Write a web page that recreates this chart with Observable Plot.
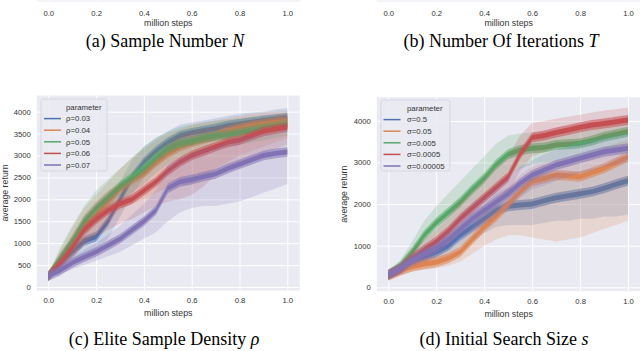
<!DOCTYPE html>
<html><head><meta charset="utf-8">
<script src="https://cdn.jsdelivr.net/npm/d3@7"></script>
<script src="https://cdn.jsdelivr.net/npm/@observablehq/plot@0.6"></script>
<style>
html,body{margin:0;padding:0;background:#fff}
#root{position:relative;width:640px;height:351px;overflow:hidden;font-family:"Liberation Sans",Arial,sans-serif}
.panel{position:absolute}
.cap{position:absolute;font-family:"Liberation Serif","Times New Roman",serif;font-size:18px;line-height:18px;color:#000;white-space:nowrap;transform:translateX(-50%)}
</style></head><body>
<div id="root"></div>
<script>
// ---------------- data ----------------
const steps = [0,0.05,0.1,0.15,0.2,0.25,0.3,0.35,0.4,0.45,0.5,0.55,0.6,0.65,0.7,0.75,0.8,0.85,0.9,0.95,1.0];
const xTicks = [0,0.2,0.4,0.6,0.8,1.0];
const rhoTicks = [0,500,1000,1500,2000,2500,3000,3500,4000];
const sigmaTicks = [0,1000,2000,3000,4000];

const rhoLabels = ["ρ=0.03","ρ=0.04","ρ=0.05","ρ=0.06","ρ=0.07"];
const rhoMean = [
  [250,550,800,1050,1150,1500,2000,2500,2850,3100,3300,3450,3520,3570,3620,3680,3720,3760,3800,3830,3860],
  [250,600,1000,1400,1650,1950,2250,2450,2600,2850,3050,3200,3300,3380,3450,3550,3620,3680,3720,3760,3780],
  [250,650,1050,1500,1800,2050,2300,2500,2700,2950,3150,3280,3330,3400,3450,3470,3520,3570,3620,3660,3700],
  [250,550,900,1300,1550,1750,1900,2000,2200,2400,2650,2850,3000,3100,3200,3300,3350,3450,3550,3600,3650],
  [250,380,550,680,800,950,1100,1300,1500,1750,2250,2400,2450,2520,2580,2700,2800,2900,3000,3050,3080]
];
const rhoLo = [
  [200,350,550,750,850,1100,1600,2100,2500,2750,3000,3150,3250,3300,3350,3400,3450,3500,3550,3550,3600],
  [200,400,700,1000,1200,1500,1750,1900,2000,2150,2250,2300,2350,2500,2700,2850,3000,3100,3200,3300,3400],
  [200,450,750,1150,1450,1700,1950,2150,2350,2600,2800,2950,3050,3100,3150,3200,3250,3300,3350,3400,3450],
  [200,400,650,950,1150,1300,1450,1550,1700,1850,1950,2000,2100,2300,2550,2700,2800,2950,3050,3150,3250],
  [200,300,400,500,600,700,800,950,1100,1250,1500,1700,1800,1850,1850,1900,1950,2050,2150,2250,2350]
];
const rhoHi = [
  [300,800,1100,1350,1500,1900,2400,2900,3200,3400,3550,3700,3750,3800,3850,3900,3950,3980,4000,4050,4080],
  [300,850,1350,1800,2100,2400,2700,2950,3150,3350,3500,3600,3700,3750,3800,3850,3900,3950,3980,4000,4020],
  [300,900,1400,1850,2200,2450,2700,2950,3200,3400,3550,3650,3700,3750,3800,3820,3850,3880,3900,3930,3950],
  [300,750,1200,1650,1950,2200,2350,2500,2700,2950,3250,3450,3550,3600,3650,3700,3750,3800,3850,3900,3950],
  [300,500,700,850,1000,1200,1400,1650,1900,2200,2800,2950,3050,3150,3200,3300,3400,3450,3500,3550,3600]
];

const sigmaLabels = ["σ=0.5","σ=0.05","σ=0.005","σ=0.0005","σ=0.00005"];
const sigmaMean = [
  [300,430,600,720,850,1000,1250,1450,1650,1850,1950,1980,2000,2080,2150,2200,2250,2300,2380,2480,2560],
  [280,400,500,560,600,700,850,1150,1450,1700,2000,2300,2550,2620,2700,2680,2660,2760,2860,3000,3130],
  [300,500,850,1250,1550,1800,2050,2350,2620,2950,3200,3300,3340,3360,3420,3440,3460,3530,3620,3680,3740],
  [300,450,700,900,1100,1350,1650,1900,2150,2400,2650,3200,3600,3650,3720,3780,3850,3900,3940,3980,4020],
  [300,450,650,800,930,1150,1400,1650,1850,2050,2250,2500,2700,2820,2940,3020,3100,3180,3260,3300,3340]
];
const sigmaLo = [
  [250,350,450,550,650,750,950,1100,1300,1450,1500,1500,1500,1550,1600,1600,1650,1650,1700,1700,1750],
  [220,300,380,420,450,520,620,800,1000,1150,1250,1250,1200,1150,1100,1150,1200,1300,1400,1500,1600],
  [250,400,650,950,1200,1400,1600,1850,2100,2400,2700,2850,2950,3000,3050,3100,3150,3200,3300,3350,3400],
  [250,350,550,700,850,1050,1300,1550,1750,2000,2250,2800,3150,3250,3350,3400,3500,3550,3600,3650,3700],
  [250,350,500,620,720,900,1100,1300,1500,1700,1900,2150,2350,2450,2550,2650,2750,2800,2900,2950,3000]
];
const sigmaHi = [
  [350,550,750,900,1050,1250,1550,1800,2000,2250,2400,2450,2500,2600,2650,2750,2800,2850,2900,3000,3050],
  [340,520,650,720,780,900,1100,1450,1800,2100,2400,2700,2900,3000,3050,3100,3150,3250,3350,3450,3550],
  [350,650,1100,1600,1950,2250,2550,2850,3150,3450,3650,3700,3720,3740,3780,3800,3820,3880,3940,3980,4030],
  [350,600,900,1150,1400,1700,2050,2300,2600,2900,3150,3650,3950,4000,4050,4100,4150,4200,4250,4280,4320],
  [350,550,800,1000,1150,1400,1700,2000,2200,2450,2650,2900,3050,3200,3300,3400,3450,3550,3600,3650,3700]
];

// ---------------- style ----------------
const palette = ["#4c72b0","#dd8452","#55a868","#c44e52","#8172b3"];
const FONT = "Liberation Sans, Arial, sans-serif";
const TEXT = "#333";
const root = document.getElementById("root");

function place(node, left, top) {
  const d = document.createElement("div");
  d.className = "panel";
  d.style.left = left + "px";
  d.style.top = top + "px";
  d.appendChild(node);
  root.appendChild(d);
}

function caption(html, cx, top) {
  const d = document.createElement("div");
  d.className = "cap";
  d.style.left = cx + "px";
  d.style.top = top + "px";
  d.innerHTML = html;
  root.appendChild(d);
}

// top row: cut-off x axes of panels (a) and (b)
function topAxis(marginLeft, marginRight) {
  return Plot.plot({
    width: 320, height: 30,
    marginTop: 0, marginBottom: 29, marginLeft, marginRight,
    style: {fontFamily: FONT, fontSize: "7.7px", color: TEXT, background: "transparent", overflow: "visible"},
    x: {domain: [-0.05, 1.05], ticks: xTicks, tickFormat: d3.format(".1f"), tickSize: 0, tickPadding: 9, label: null},
    marks: [
      Plot.frame({fill: "#eaeaf2", stroke: "none"}),
      Plot.ruleX(xTicks, {stroke: "#fff"}),
      Plot.text(["million steps"], {frameAnchor: "bottom", lineAnchor: "middle", dy: 21.5, fontSize: 8.8, fill: TEXT})
    ]
  });
}

function panel({mean, lo, hi, labels, yTicks, yDomain, noise, marginTop, marginBottom, marginLeft, marginRight, ylabelDx, legend}) {
  const marks = [
    Plot.frame({fill: "#eaeaf2", stroke: "none"}),
    Plot.ruleX(xTicks, {stroke: "#fff", strokeWidth: 1}),
    Plot.ruleY(yTicks, {stroke: "#fff", strokeWidth: 1})
  ];
  mean.forEach((m, k) => {
    const rows = steps.map((t, i) => ({t, mean: m[i], lo: lo[k][i], hi: hi[k][i], s: labels[k]}));
    // confidence band
    marks.push(Plot.areaY(rows, {x: "t", y1: "lo", y2: "hi", fill: palette[k], fillOpacity: 0.2}));
    // noisy mean curve: soft outer fuzz + dense core
    marks.push(Plot.areaY(rows, {x: "t", y1: d => d.mean - noise, y2: d => d.mean + noise, fill: palette[k], fillOpacity: 0.55}));
    marks.push(Plot.areaY(rows, {x: "t", y1: d => d.mean - noise * 0.5, y2: d => d.mean + noise * 0.5, fill: palette[k], fillOpacity: 1}));
  });
  marks.push(Plot.text(["million steps"], {frameAnchor: "bottom", lineAnchor: "middle", dy: 23, fontSize: 8.8, fill: TEXT}));
  marks.push(Plot.text(["average return"], {frameAnchor: "left", lineAnchor: "middle", dx: ylabelDx, rotate: -90, textAnchor: "middle", fontSize: 8.8, fill: TEXT}));
  const svg = Plot.plot({
    width: 320, height: 235,
    marginTop, marginBottom, marginLeft, marginRight,
    style: {fontFamily: FONT, fontSize: "7.7px", color: TEXT, background: "transparent", overflow: "visible"},
    x: {domain: [-0.05, 1.05], ticks: xTicks, tickFormat: d3.format(".1f"), tickSize: 0, tickPadding: 7.5, label: null},
    y: {domain: yDomain, ticks: yTicks, tickFormat: d3.format("d"), tickSize: 0, tickPadding: 6, label: null},
    marks
  });
  // legend (seaborn style: hue title as a handle-less first entry)
  const g = d3.select(svg).append("g").attr("font-family", FONT).attr("font-size", 7.8)
    .attr("fill", TEXT).attr("text-anchor", "start");
  g.append("rect").attr("x", legend.x).attr("y", legend.y).attr("width", legend.w).attr("height", legend.h)
    .attr("rx", 2.5).attr("fill", "#eaeaf2").attr("fill-opacity", 0.85).attr("stroke", "#d2d2dc").attr("stroke-width", 0.8);
  const tx = legend.x + legend.textDx;
  const y0 = legend.y + 8;
  const dyRow = 11.6;
  g.append("text").attr("x", tx).attr("y", y0).attr("dy", "0.35em").attr("text-anchor", "start").text("parameter");
  labels.forEach((lab, k) => {
    const y = y0 + dyRow * (k + 1);
    g.append("line").attr("x1", legend.x + legend.lineDx).attr("x2", legend.x + legend.lineDx + 17)
      .attr("y1", y).attr("y2", y).attr("stroke", palette[k]).attr("stroke-width", 1.5);
    g.append("text").attr("x", tx).attr("y", y).attr("dy", "0.35em").attr("text-anchor", "start").text(lab);
  });
  return svg;
}

place(topAxis(36.35, 20.75), 0, 0);
place(topAxis(56.3, 0), 320, 0);
caption("(a) Sample Number <i>N</i>", 165, 32);
caption("(b) Number Of Iterations <i>T</i>", 501, 32);

place(panel({
  mean: rhoMean, lo: rhoLo, hi: rhoHi, labels: rhoLabels,
  yTicks: rhoTicks, yDomain: [-68, 4380], noise: 110,
  marginTop: 10, marginBottom: 30, marginLeft: 36.35, marginRight: 20.75, ylabelDx: -32,
  legend: {x: 41, y: 14, w: 66, h: 72, lineDx: 3, textDx: 25}
}), 0, 85);

place(panel({
  mean: sigmaMean, lo: sigmaLo, hi: sigmaHi, labels: sigmaLabels,
  yTicks: sigmaTicks, yDomain: [-82, 4582], noise: 120,
  marginTop: 11.7, marginBottom: 29.3, marginLeft: 56.3, marginRight: 0, ylabelDx: -33,
  legend: {x: 61, y: 15, w: 69, h: 71, lineDx: 2.5, textDx: 26}
}), 320, 85);

caption("(c) Elite Sample Density <i>ρ</i>", 164, 330);
caption("(d) Initial Search Size <i>s</i>", 504, 330);
</script>
</body></html>
